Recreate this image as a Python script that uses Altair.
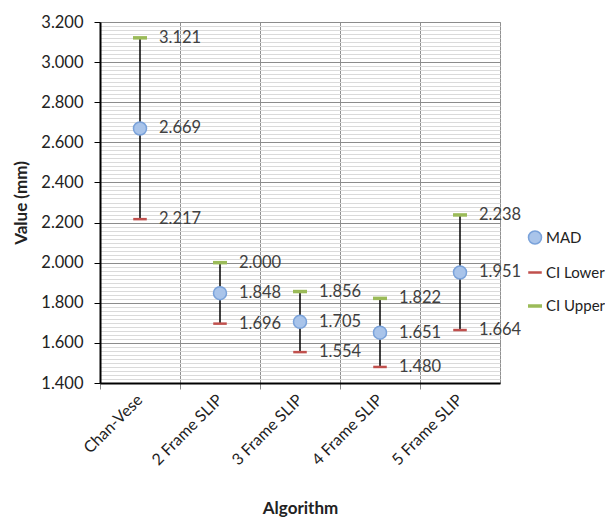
import altair as alt
import pandas as pd

algorithms = ["Chan-Vese", "2 Frame SLIP", "3 Frame SLIP", "4 Frame SLIP", "5 Frame SLIP"]
mad = [2.669, 1.848, 1.705, 1.651, 1.951]
ci_lower = [2.217, 1.696, 1.554, 1.480, 1.664]
ci_upper = [3.121, 2.000, 1.856, 1.822, 2.238]
series = ["MAD", "CI Lower", "CI Upper"]
y_ticks = [round(1.4 + 0.02 * i, 2) for i in range(91)]

wide = pd.DataFrame({"Algorithm": algorithms, "MAD": mad, "CI Lower": ci_lower, "CI Upper": ci_upper})
long = wide.melt(id_vars="Algorithm", value_vars=series, var_name="Series", value_name="Value")

FONT = "Lato"
major = "abs(datum.value*5 - round(datum.value*5)) < 0.0001"

x_enc = alt.X(
    "Algorithm:N",
    sort=algorithms,
    scale=alt.Scale(paddingInner=0, paddingOuter=0),
    axis=alt.Axis(
        title="Algorithm",
        labelAngle=-45,
        labelAlign="right",
        labelBaseline="middle",
        bandPosition=0,
        labelPadding=8,
        labelFontSize=16,
        labelColor="#222222",
        labelFont=FONT,
        titleFont=FONT,
        titleFontSize=17,
        titleFontWeight="bold",
        titleColor="#222222",
        titlePadding=33,
        domainColor="black",
        domainWidth=2,
        tickColor="#888888",
        tickSize=6,
        grid=True,
        gridColor="#909090",
        gridWidth=1,
    ),
)

y_scale = alt.Scale(domain=[1.4, 3.2], nice=False, zero=False)
y_axis = alt.Axis(
    title="Value (mm)",
    values=y_ticks,
    tickCount=200,
    labelExpr=f"({major}) ? format(datum.value, '.3f') : ''",
    labelOverlap=False,
    labelFontSize=16.5,
    labelColor="#222222",
    labelFont=FONT,
    labelPadding=11,
    titleFont=FONT,
    titleFontSize=17,
    titleFontWeight="bold",
    titleColor="#222222",
    titlePadding=10,
    domainColor="black",
    domainWidth=2,
    tickSize=alt.condition(major, alt.value(6), alt.value(0)),
    tickColor="black",
    grid=True,
    gridColor=alt.condition(major, alt.value("#8c8c8c"), alt.value("#dadada")),
    gridWidth=1.2,
)

rules = alt.Chart(wide).mark_rule(color="black", strokeWidth=1.5).encode(
    x=x_enc,
    y=alt.Y("CI Lower:Q", scale=y_scale, axis=y_axis),
    y2="CI Upper:Q",
)

points = alt.Chart(long).mark_point(opacity=1).encode(
    x=alt.X("Algorithm:N", sort=algorithms),
    y=alt.Y("Value:Q", scale=y_scale),
    fill=alt.Fill("Series:N", scale=alt.Scale(domain=series, range=["#a9c4ea", "#c0504d", "#9bbb59"]),
                  legend=alt.Legend(title=None)),
    stroke=alt.Stroke("Series:N", scale=alt.Scale(domain=series, range=["#7aa2da", "#c0504d", "#9bbb59"]),
                      legend=alt.Legend(title=None)),
    shape=alt.Shape("Series:N", scale=alt.Scale(domain=series, range=["circle", "stroke", "stroke"]),
                    legend=alt.Legend(title=None)),
    size=alt.Size("Series:N", scale=alt.Scale(domain=series, range=[170, 196, 196]),
                  legend=alt.Legend(title=None)),
    strokeWidth=alt.StrokeWidth("Series:N", scale=alt.Scale(domain=series, range=[1.5, 3.5, 3.5]),
                                legend=alt.Legend(title=None)),
)

labels = alt.Chart(long).mark_text(align="left", baseline="middle", dx=19, fontSize=16.5,
                                   font=FONT, color="#404040").encode(
    x=alt.X("Algorithm:N", sort=algorithms),
    y=alt.Y("Value:Q", scale=y_scale),
    text=alt.Text("Value:Q", format=".3f"),
)

chart = alt.layer(rules, points, labels).properties(
    width=400,
    height=361,
    autosize=alt.AutoSizeParams(type="none"),
    padding={"left": 92, "top": 14, "right": 105, "bottom": 145},
).configure_view(
    stroke="#909090", strokeWidth=1
).configure_legend(
    orient="none",
    legendX=426,
    legendY=208,
    labelFont=FONT,
    labelFontSize=15,
    labelColor="#222222",
    rowPadding=16,
    symbolOffset=0,
    labelOffset=2,
)

chart.save("out.html", embed_options={"renderer": "svg", "actions": False})
